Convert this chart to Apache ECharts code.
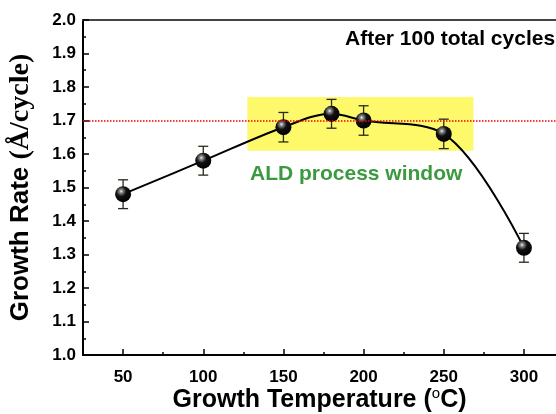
<!DOCTYPE html>
<html>
<head>
<meta charset="utf-8">
<script src="https://cdn.jsdelivr.net/npm/echarts@6/dist/echarts.min.js"></script>
<style>
html,body{margin:0;padding:0;background:#fff;}
#main{width:556px;height:414px;}
</style>
</head>
<body>
<div id="main"></div>
<script>
// data
var temps = [50, 100, 150, 180, 200, 250, 300];
var rates = [1.48, 1.58, 1.68, 1.72, 1.70, 1.66, 1.32];
var errs = [0.043, 0.043, 0.044, 0.043, 0.044, 0.044, 0.043];
var xLabels = [50, 100, 150, 200, 250, 300];
var xMinor = [75, 125, 175, 225, 275];
var windowX = [127.5, 268.5];   // ALD process window (x range)
var windowY = [1.61, 1.77];      // ALD process window (y range)
var refLine = 1.7;

var lineData = temps.map(function(t, i){ return [t, rates[i]]; });
var errData = temps.map(function(t, i){ return [t, rates[i] - errs[i], rates[i] + errs[i]]; });

var font = 'Liberation Sans, Arial, sans-serif';

var chart = echarts.init(document.getElementById('main'));
var option = {
	animation: false,
	grid: {
		left: 83, top: 20, right: 0, bottom: 59,
		outerBoundsMode: 'none'
	},
	xAxis: [
		{
			type: 'value',
			min: 25, max: 320,
			axisLine: {show: true, onZero: false, lineStyle: {color: '#000', width: 2}},
			axisTick: {show: true, inside: true, length: 6, customValues: xLabels, lineStyle: {color: '#000', width: 1.5}},
			axisLabel: {
				customValues: xLabels,
				color: '#000', fontFamily: font, fontWeight: 'bold', fontSize: 17, margin: 14
			},
			splitLine: {show: false},
			name: '{a|Growth Temperature (}{s|o}{a|C)}',
			nameLocation: 'middle',
			nameGap: 31,
			nameMoveOverlap: false,
			nameTextStyle: {
				rich: {
					a: {fontFamily: font, fontWeight: 'bold', fontSize: 25, color: '#000'},
					s: {fontFamily: font, fontWeight: 'normal', fontSize: 15, color: '#000', verticalAlign: 'top', padding: [0, 0, 14, 0]}
				}
			}
		},
		{
			type: 'value',
			position: 'bottom',
			min: 25, max: 320,
			axisLine: {show: false},
			axisTick: {show: true, inside: true, length: 3, customValues: xMinor, lineStyle: {color: '#000', width: 1.5}},
			axisLabel: {show: false},
			splitLine: {show: false}
		},
		{
			// top frame line
			type: 'value',
			position: 'top',
			min: 25, max: 320,
			axisLine: {show: true, onZero: false, lineStyle: {color: '#444', width: 2}},
			axisTick: {show: false},
			axisLabel: {show: false},
			splitLine: {show: false}
		}
	],
	yAxis: {
		type: 'value',
		min: 1.0, max: 2.0, interval: 0.1,
		axisLine: {show: true, onZero: false, lineStyle: {color: '#000', width: 2}},
		axisTick: {show: true, inside: true, length: 6, lineStyle: {color: '#000', width: 1.5}},
		minorTick: {show: true, splitNumber: 2, length: 3, lineStyle: {color: '#000', width: 1.5}},
		axisLabel: {
			color: '#000', fontFamily: font, fontWeight: 'bold', fontSize: 17, margin: 7,
			formatter: function(v){ return v.toFixed(1); }
		},
		splitLine: {show: false},
		name: '{a|Growth Rate }{b|(Å/cycle)}',
		nameLocation: 'middle',
		nameGap: 48,
		nameMoveOverlap: false,
		nameTextStyle: {
			rich: {
				a: {fontFamily: font, fontWeight: 'bold', fontSize: 26, color: '#000'},
				b: {fontFamily: 'Liberation Serif, Times New Roman, serif', fontWeight: 'bold', fontSize: 28, color: '#000'}
			}
		}
	},
	series: [
		{
			// background: process window + reference line
			type: 'line',
			z: 1,
			data: lineData,
			symbol: 'none',
			lineStyle: {opacity: 0},
			silent: true,
			markArea: {
				silent: true,
				itemStyle: {color: '#fdf96a'},
				data: [[{xAxis: windowX[0], yAxis: windowY[1]}, {xAxis: windowX[1], yAxis: windowY[0]}]]
			},
			markLine: {
				silent: true,
				symbol: 'none',
				label: {show: false},
				itemStyle: {color: '#ee0000'},
				lineStyle: {color: '#ee0000', type: 'dotted', width: 1.5, opacity: 1},
				data: [{yAxis: refLine, lineStyle: {color: '#ee0000'}}]
			}
		},
		{
			// error bars
			type: 'custom',
			z: 2,
			data: errData,
			renderItem: function(params, api){
				var x = api.value(0);
				var lo = api.coord([x, api.value(1)]);
				var hi = api.coord([x, api.value(2)]);
				var w = 5;
				var st = {stroke: '#2a2a1a', lineWidth: 1.3};
				return {
					type: 'group',
					children: [
						{type: 'line', shape: {x1: lo[0], y1: lo[1], x2: hi[0], y2: hi[1]}, style: st},
						{type: 'line', shape: {x1: lo[0] - w, y1: lo[1], x2: lo[0] + w, y2: lo[1]}, style: st},
						{type: 'line', shape: {x1: hi[0] - w, y1: hi[1], x2: hi[0] + w, y2: hi[1]}, style: st}
					]
				};
			}
		},
		{
			type: 'line',
			z: 3,
			data: lineData,
			smooth: 0.35,
			symbol: 'circle',
			symbolSize: 16,
			lineStyle: {color: '#000', width: 2},
			itemStyle: {
				color: {
					type: 'radial', x: 0.38, y: 0.32, r: 0.7,
					colorStops: [
						{offset: 0, color: '#f4f4f4'},
						{offset: 0.15, color: '#8a8a8a'},
						{offset: 0.45, color: '#111'},
						{offset: 1, color: '#000000'}
					]
				},
				borderWidth: 0
			}
		}
	],
	graphic: [
		{
			type: 'text', left: 345, top: 29,
			style: {text: 'After 100 total cycles', fill: '#000', font: 'bold 21px ' + font}
		},
		{
			type: 'text', left: 250, top: 164,
			style: {text: 'ALD process window', fill: '#3b9a3f', font: 'bold 21px ' + font}
		}
	]
};
chart.setOption(option);
</script>
</body>
</html>
